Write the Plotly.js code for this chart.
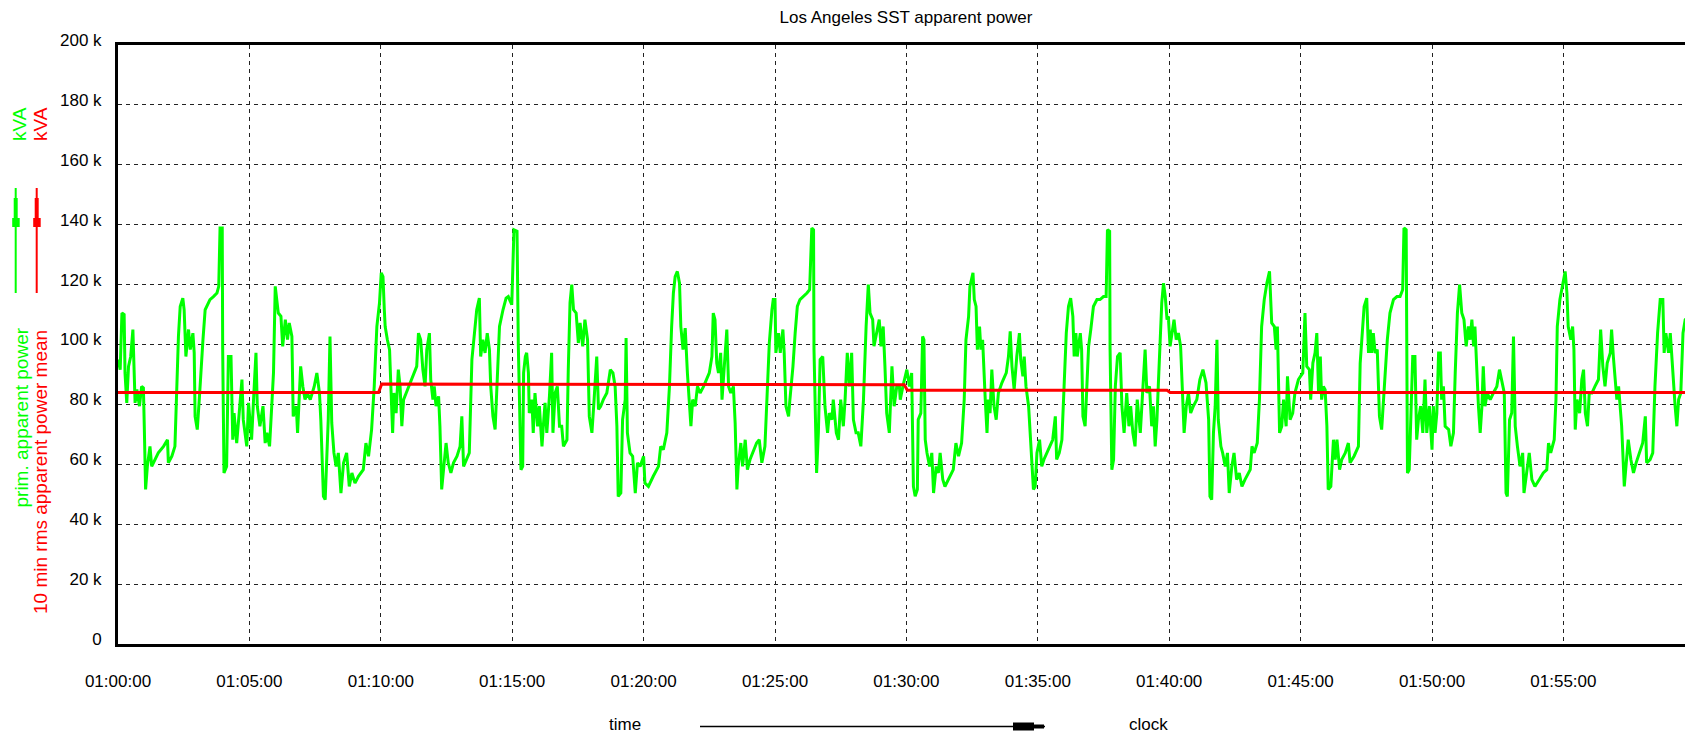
<!DOCTYPE html>
<html><head><meta charset="utf-8">
<script src="https://cdn.plot.ly/plotly-3.0.1.min.js"></script>
<style>html,body{margin:0;padding:0;background:#fff;overflow:hidden}#chart{width:1685px;height:736px}</style>
</head><body><div id="chart"></div>
<script>
const chartTitle = "Los Angeles SST apparent power";
const startDay = "2000-01-01";
const startHour = 1;
const viewEndSec = 3577.6;
const greenName = "prim. apparent power";
const redName = "10 min rms apparent power mean";
const unitLabel = "kVA";
const xLabelLeft = "time";
const xLabelRight = "clock";
const yTickVals = [0, 20, 40, 60, 80, 100, 120, 140, 160, 180, 200];
const yTickText = ["0", "20 k", "40 k", "60 k", "80 k", "100 k", "120 k", "140 k", "160 k", "180 k", "200 k"];
// [seconds after 01:00:00, value in k]
const greenPoints = [
[0,95],[5,91.6],[9,110.5],[14,110],[16,90.5],[20,80.5],[24,92.7],[29,96],[34,105],[37,86],[39,80.5],[43,85],[49,79.4],[54,86],[58,85.5],[60,72.7],[63,51.6],[67,59.3],[73,66],[77,59.3],[85,61.6],[92,63.8],[104,66],[113,68.2],[115,60.5],[123,62.7],[130,66],[134,83.8],[138,102.7],[142,112.7],[148,115.5],[151,111.6],[155,96],[161,105],[165,98.3],[171,103.8],[174,97.2],[176,76],[181,71.6],[186,82.7],[189,90.5],[194,101.6],[199,111.6],[210,115],[218,116],[226,117.2],[230,119.4],[233,138.9],[238,138.9],[239,98.3],[242,57.1],[248,59.3],[252,96],[258,96],[262,68.2],[265,77.1],[271,67.1],[277,79.4],[283,88.3],[286,74.9],[294,66],[298,80.5],[305,68.2],[311,86],[315,97.2],[318,79.4],[324,72.7],[331,79.4],[336,67.1],[340,70.5],[346,66],[351,79.4],[355,90.5],[359,119.4],[363,115],[366,110.5],[372,109.4],[376,99.4],[382,108.3],[387,101.6],[391,107.2],[397,102.7],[400,76],[407,79.4],[410,70.5],[414,83.8],[417,92.7],[422,86],[427,81.6],[432,83.8],[439,81.6],[448,86],[454,90.5],[460,83.8],[463,74.9],[469,49.3],[473,48.2],[480,74.9],[484,102.7],[488,73.8],[493,63.8],[498,59.3],[503,63.8],[509,50.4],[515,60.5],[522,63.8],[528,52.6],[534,57.1],[541,53.7],[549,56],[560,58.2],[566,67.1],[572,62.7],[579,71.6],[585,86],[591,106],[597,113.9],[601,123.9],[605,122.7],[608,111.6],[610,106],[615,101.6],[620,98.3],[623,86],[627,70.5],[630,83.8],[635,77.1],[640,91.6],[644,86],[648,72.7],[652,81.6],[658,83.8],[667,87.2],[676,90.5],[682,92.7],[686,103.8],[691,101.6],[696,91.6],[701,86],[705,98.3],[711,103.8],[714,88.3],[719,81.6],[722,86],[726,79.4],[732,82.7],[735,72.7],[739,51.6],[745,61.6],[749,67.1],[754,60.5],[760,57.1],[766,60.5],[774,62.7],[781,66],[785,76],[789,59.3],[796,61.6],[802,63.8],[808,95],[813,103.8],[819,111.6],[825,115.5],[828,96],[833,101.6],[838,97.2],[843,103.8],[848,98.3],[851,86],[856,76],[861,71.6],[865,86],[871,106],[879,111.6],[886,115.5],[891,116],
[899,113.3],[904,138.3],[911,137.8],[914,99.4],[920,58.2],[924,59.3],[926,90.5],[930,96],[933,97.2],[937,90.5],[939,77.1],[945,81.6],[948,70.5],[952,83.8],[958,72.7],[962,79.4],[968,66],[971,72.7],[975,80.5],[979,70.5],[985,82.7],[990,97.2],[993,70.5],[998,83.8],[1003,86],[1008,72.7],[1013,72.7],[1017,66],[1025,68.2],[1028,91.6],[1032,113.9],[1036,120],[1040,111.6],[1046,110.5],[1051,100.5],[1055,107.2],[1061,99.4],[1066,108.3],[1072,101.6],[1076,76],[1082,70.5],[1087,81.6],[1093,96],[1097,78.3],[1102,79.4],[1108,81.6],[1116,83.8],[1124,91.6],[1130,90.5],[1135,86],[1139,72.7],[1142,49.3],[1148,50.4],[1152,74.9],[1158,81.6],[1160,102.2],[1163,70.5],[1169,63.8],[1175,62.7],[1181,50.4],[1186,60.5],[1192,59.3],[1200,62.7],[1203,53.7],[1211,52.6],[1222,56],[1234,59.3],[1239,66],[1245,64.9],[1253,70.5],[1259,86],[1264,106],[1268,117.2],[1272,122.7],[1277,124.4],[1282,120.5],[1285,106],[1290,98.3],[1295,105.5],[1300,90.5],[1305,79.4],[1308,72.7],[1312,81.6],[1318,79.4],[1323,86],[1329,83.8],[1337,86],[1344,88.3],[1350,90.5],[1356,96],[1359,110.5],[1363,108.3],[1367,93.8],[1371,90.5],[1376,97.2],[1379,81.6],[1384,92.7],[1390,105],[1394,86],[1399,83.8],[1405,86],[1409,73.8],[1413,51.6],[1416,59.3],[1422,67.1],[1426,59.3],[1432,68.2],[1437,58.2],[1443,61.6],[1451,64.9],[1458,67.1],[1464,68.2],[1470,60.5],[1477,66],[1483,86],[1487,100.5],[1493,111.6],[1496,115],[1500,115],[1502,97.2],[1508,103.8],[1512,97.2],[1518,105],[1521,97.2],[1525,79.4],[1531,76],[1534,81.6],[1541,92.7],[1546,103.8],[1551,112.7],[1557,115],[1565,116],[1573,117.2],[1579,118.3],[1584,138.9],[1588,138.3],[1589,98.3],[1595,57.1],[1599,70.5],[1603,95],[1609,96],[1614,79.4],[1620,70.5],[1624,77.1],[1630,74.9],[1633,81.6],[1640,70.5],[1645,68.2],[1650,81.6],[1656,72.7],[1660,81.6],[1665,97.2],[1670,86],[1675,97.2],[1679,74.9],[1685,70.5],[1690,70.5],[1696,66],[1702,81.6],[1708,106],[1713,120],[1717,110.5],[1723,108.3],[1726,99.4],[1732,103.8],[1738,108.3],[1742,99.4],[1747,106],[1751,92.7],[1755,77.1],[1761,70.5],[1767,92.7],[1772,79.4],[1778,86],[1784,86],
[1786,81.6],[1792,86],[1801,91.6],[1807,86],[1812,90.5],[1816,52.6],[1820,49.3],[1825,51.6],[1827,74.9],[1833,77.1],[1837,102.7],[1840,101.6],[1843,68.2],[1847,63.8],[1853,59.3],[1858,63.8],[1862,50.4],[1868,59.3],[1873,57.1],[1877,63.8],[1883,54.9],[1888,52.6],[1896,54.9],[1907,58.2],[1913,67.1],[1919,62.7],[1926,67.1],[1932,81.6],[1936,101.6],[1942,109.4],[1945,119.4],[1952,123.9],[1955,115],[1959,112.7],[1962,98.3],[1967,106],[1970,98.3],[1974,101.6],[1980,81.6],[1984,70.5],[1987,81.6],[1991,77.1],[1995,91.6],[2000,79.4],[2005,74.9],[2010,83.8],[2018,87.2],[2028,90.5],[2033,96],[2037,104.4],[2041,92.7],[2046,84.9],[2052,96],[2058,103.8],[2061,95],[2066,89.4],[2069,96],[2073,86],[2079,79.4],[2082,72.7],[2086,61.6],[2090,51.6],[2094,52.6],[2098,63.8],[2104,68.2],[2109,59.3],[2114,61.6],[2121,63.8],[2128,66],[2134,68.2],[2140,76],[2143,61.6],[2149,63.8],[2155,68.2],[2160,86],[2165,103.8],[2170,112.7],[2175,115.5],[2180,109.4],[2183,96],[2187,103.8],[2190,96],[2197,103.8],[2200,98.3],[2203,76],[2208,72.7],[2212,86],[2216,99.4],[2221,105],[2227,112.7],[2235,115],[2242,115],[2250,116],[2256,116],[2259,138.3],[2264,137.8],[2265,98.3],[2269,58.2],[2273,61.6],[2277,86],[2282,96],[2288,97.2],[2292,79.4],[2297,70.5],[2303,83.8],[2308,72.7],[2312,79.4],[2317,70.5],[2322,66],[2327,81.6],[2334,70.5],[2340,86],[2345,98.3],[2349,83.8],[2355,86],[2360,72.7],[2364,79.4],[2368,66],[2372,74.9],[2375,86],[2379,101.6],[2383,113.9],[2387,120.5],[2391,116],[2395,108.3],[2398,109.4],[2402,99.4],[2406,103.8],[2411,108.3],[2416,101.6],[2421,103.8],[2426,99.4],[2431,79.4],[2434,70.5],[2439,79.4],[2444,83.8],[2449,77.1],[2455,79.4],[2463,81.6],[2470,88.3],[2477,91.6],[2480,89.4],[2484,87.2],[2490,74.9],[2493,49.3],[2497,48.2],[2501,70.5],[2505,79.4],[2509,101.6],[2512,74.9],[2518,66],[2522,63.8],[2528,59.3],[2533,63.8],[2537,50.4],[2543,59.3],[2548,63.8],[2554,54.9],[2560,57.1],[2566,52.6],[2573,54.9],[2585,58.2],[2589,66],[2594,63.8],[2601,67.1],[2606,81.6],[2611,106],[2617,115],[2623,120.5],[2629,124.4],[2632,115],[2634,107.2],[2640,106],[2644,98.3],[2647,106],[2652,70.5],[2657,72.7],[2661,81.6],[2667,72.7],[2670,89.4],[2676,74.9],[2682,77.1],[2687,83.8],[2695,88.3],
[2705,90.5],[2710,110.5],[2714,92.7],[2720,91.6],[2723,81.6],[2728,93.8],[2733,97.2],[2737,103.8],[2741,83.8],[2745,96],[2748,81.6],[2752,86],[2756,84.9],[2760,72.7],[2763,51.6],[2769,52.6],[2775,68.2],[2779,61.6],[2783,68.2],[2789,58.2],[2794,61.6],[2802,63.8],[2809,67.1],[2813,60.5],[2822,62.7],[2832,66],[2836,93.8],[2840,101.6],[2845,112.7],[2851,115.5],[2855,97.2],[2859,105],[2862,97.2],[2866,103.8],[2870,97.2],[2875,98.3],[2880,76],[2885,71.6],[2889,81.6],[2893,88.3],[2898,101.6],[2904,110.5],[2912,115],[2920,116],[2927,116],[2933,118.3],[2936,138.9],[2941,138.3],[2942,97.2],[2944,57.1],[2948,58.2],[2952,81.6],[2956,96],[2961,96],[2965,68.2],[2969,74.9],[2974,79.4],[2979,70.5],[2984,88.3],[2988,70.5],[2994,79.4],[3000,64.9],[3003,79.4],[3007,70.5],[3011,77.1],[3015,97.2],[3019,97.2],[3022,81.6],[3026,86],[3030,72.7],[3038,71.6],[3043,66],[3049,70.5],[3053,90.5],[3058,110.5],[3063,120],[3068,110.5],[3073,108.3],[3078,99.4],[3083,106],[3087,101.6],[3091,108.3],[3095,99.4],[3098,106],[3102,90.5],[3106,79.4],[3110,70.5],[3114,79.4],[3117,92.7],[3121,79.4],[3126,83.8],[3133,81.6],[3140,83.8],[3148,86],[3154,91.6],[3159,88.3],[3165,83.8],[3169,50.4],[3172,49.3],[3177,74.9],[3182,77.1],[3186,102.7],[3190,72.7],[3195,66],[3201,59.3],[3207,63.8],[3210,50.4],[3216,57.1],[3222,63.8],[3228,54.9],[3235,52.6],[3245,54.9],[3254,57.1],[3262,58.2],[3266,67.1],[3271,63.8],[3279,68.2],[3283,81.6],[3286,106],[3292,115],[3299,120.5],[3304,124.4],[3308,117.2],[3311,106],[3317,101.6],[3321,106],[3324,98.3],[3327,71.6],[3331,81.6],[3337,77.1],[3342,88.3],[3346,91.6],[3350,77.1],[3355,72.7],[3359,83.8],[3365,83.8],[3372,86],[3380,88.3],[3385,105],[3390,92.7],[3395,86],[3400,93.8],[3407,97.2],[3410,105],[3414,96],[3418,88.3],[3422,81.6],[3426,86],[3429,79.4],[3433,72.7],[3439,52.6],[3443,59.3],[3448,68.2],[3454,61.6],[3460,57.1],[3466,60.5],[3473,63.8],[3481,67.1],[3487,76],[3490,60.5],[3498,61.6],[3504,63.8],[3509,86],[3515,103.8],[3521,115],[3527,115],[3530,97.2],[3534,103.8],[3540,97.2],[3544,103.8],[3547,97.2],[3551,86],[3555,79.4],[3559,72.7],[3563,81.6],[3568,83.8],[3573,103.8],[3578,108.3],[3590,110]
];
const redSec = [0, 595, 602, 1195, 1202, 1795, 1802, 2395, 2402, 2995, 3002, 3600];
const redKVA = [84.0, 84.0, 86.8, 86.8, 86.6, 86.6, 84.7, 84.7, 84.0, 84.0, 84.0, 84.0];

function secToStr(s) {
  const h = startHour + Math.floor(s / 3600);
  const m = Math.floor((s % 3600) / 60);
  const sec = s % 60;
  const p = n => (n < 10 ? "0" : "") + n;
  const secStr = Number.isInteger(sec) ? p(sec) : (sec < 10 ? "0" : "") + sec.toFixed(1);
  return startDay + " " + p(h) + ":" + p(m) + ":" + secStr;
}

const FONT = "Liberation Sans, Arial, sans-serif";
const L = 118, T = 45, W = 1567, H = 599;
const px = x => (x - L) / W;
const py = y => (T + H - y) / H;

const green = {
  x: greenPoints.map(p => secToStr(p[0])),
  y: greenPoints.map(p => p[1]),
  type: "scatter", mode: "lines",
  line: {color: "#00ff00", width: 3},
  hoverinfo: "skip"
};
const red = {
  x: redSec.map(secToStr),
  y: redKVA,
  type: "scatter", mode: "lines",
  line: {color: "#ff0000", width: 3},
  hoverinfo: "skip"
};

const shapes = [];
function glyph(cx, color) {
  shapes.push({type: "line", xref: "paper", yref: "paper", x0: px(cx), x1: px(cx), y0: py(188), y1: py(293), line: {color: color, width: 2}});
  shapes.push({type: "rect", xref: "paper", yref: "paper", x0: px(cx - 2), x1: px(cx + 2), y0: py(198), y1: py(219), fillcolor: color, line: {width: 0}});
  shapes.push({type: "rect", xref: "paper", yref: "paper", x0: px(cx - 3.5), x1: px(cx + 4), y0: py(218), y1: py(227), fillcolor: color, line: {width: 0}});
}
glyph(15.7, "#00ff00");
glyph(36.7, "#ff0000");
// time arrow
shapes.push({type: "line", xref: "paper", yref: "paper", x0: px(700), x1: px(1045), y0: py(726.5), y1: py(726.5), line: {color: "#000", width: 1.5}});
shapes.push({type: "rect", xref: "paper", yref: "paper", x0: px(1013), x1: px(1034), y0: py(722.5), y1: py(730.5), fillcolor: "#000", line: {width: 0}});
shapes.push({type: "rect", xref: "paper", yref: "paper", x0: px(1034), x1: px(1044), y0: py(724.5), y1: py(728.5), fillcolor: "#000", line: {width: 0}});

function ann(text, x, y, color, size, angle, xanchor, yanchor) {
  return {text: text, xref: "paper", yref: "paper", x: px(x), y: py(y), showarrow: false,
    textangle: angle, xanchor: xanchor, yanchor: yanchor,
    font: {family: FONT, size: size, color: color}};
}
const annotations = [
  ann(unitLabel, 19, 105, "#00ff00", 19, -90, "center", "top"),
  ann(unitLabel, 40, 105, "#ff0000", 19, -90, "center", "top"),
  ann(greenName, 20.5, 326, "#00ff00", 19, -90, "center", "top"),
  ann(redName, 40, 328, "#ff0000", 19, -90, "center", "top"),
  ann(xLabelLeft, 625, 724, "#000", 17, 0, "center", "middle"),
  ann(xLabelRight, 1148, 724, "#000", 17, 0, "center", "middle")
];

const gridDash = "4px,4px";
const gridColor = "#222";
const layout = {
  width: 1685, height: 736,
  margin: {l: L, r: 1685 - L - W, t: T, b: 736 - T - H, pad: 0},
  paper_bgcolor: "#ffffff", plot_bgcolor: "#ffffff",
  showlegend: false,
  title: {text: chartTitle, font: {family: FONT, size: 17, color: "#000"},
    xref: "container", yref: "container", x: 906 / 1685, y: 1 - 17 / 736, xanchor: "center", yanchor: "middle"},
  xaxis: {
    type: "date", range: [secToStr(0), secToStr(viewEndSec)],
    tick0: secToStr(0), dtick: 300000, tickformat: "%H:%M:%S",
    showgrid: true, gridcolor: gridColor, gridwidth: 1, griddash: gridDash,
    showline: true, linecolor: "#000", linewidth: 3, mirror: true,
    ticks: "", zeroline: false, ticklabelstandoff: 20,
    tickfont: {family: FONT, size: 17, color: "#000"}
  },
  yaxis: {
    range: [0, 200], tickvals: yTickVals, ticktext: yTickText,
    showgrid: true, gridcolor: gridColor, gridwidth: 1, griddash: gridDash,
    showline: true, linecolor: "#000", linewidth: 3, mirror: false,
    ticks: "", zeroline: false, ticklabelstandoff: 10, ticklabelshift: -5,
    tickfont: {family: FONT, size: 17, color: "#000"}
  },
  shapes: shapes,
  annotations: annotations
};

Plotly.newPlot("chart", [green, red], layout, {displayModeBar: false, staticPlot: true});
</script>
</body></html>
